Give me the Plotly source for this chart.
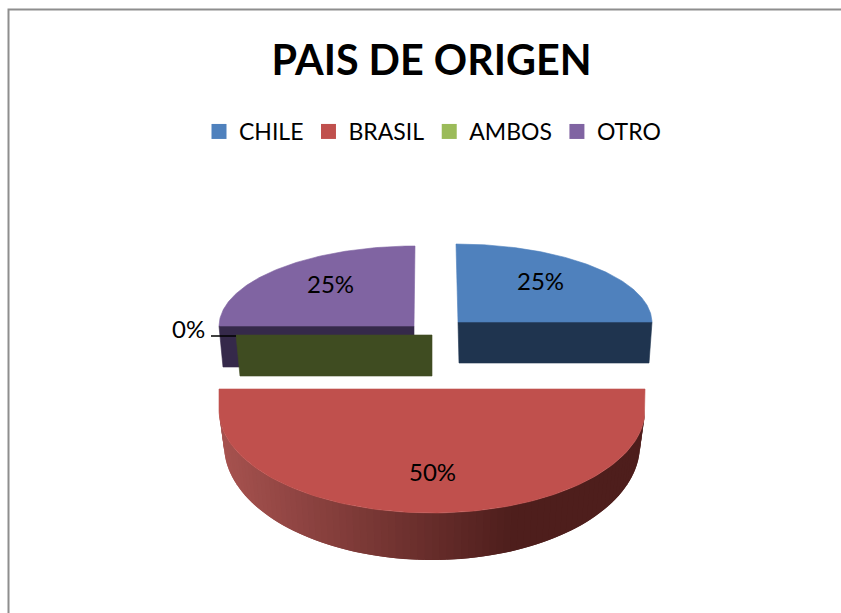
import math
import plotly.graph_objects as go

# Data
title = "PAIS DE ORIGEN"
categories = ["CHILE", "BRASIL", "AMBOS", "OTRO"]
shares = [25, 50, 0, 25]
top_colors = ["#4F81BD", "#C0504D", "#9BBB59", "#8064A2"]
wall_colors = ["#1F344F", None, "#3F4C21", "#35294A"]

W, H = 841, 613
# Per-slice projection in picture space: cut-edge centre, arc offset, top radii, shear, bottom centre, bottom radii
geometry = {
    "CHILE": dict(cx=458, cy=322, arm=0, rx=194, ry=78, sx=-2, bx=459, by=363, brx=190, bry=78),
    "BRASIL": dict(cx=432, cy=389, arm=21, rx=213, ry=103, sx=0, bx=432, by=445, brx=208, bry=115),
    "AMBOS": dict(cx=432, cy=335, arm=0, rx=196, ry=80, sx=0, bx=432, by=376, brx=192, bry=80),
    "OTRO": dict(cx=414, cy=326, arm=0, rx=195, ry=80, sx=1, bx=414, by=367, brx=191, bry=80),
}
label_pos = {"CHILE": (540, 280.5), "BRASIL": (432, 471.5), "AMBOS": (188, 328.5), "OTRO": (330, 283.5)}
paint_order = ["OTRO", "AMBOS", "CHILE", "BRASIL"]


def top_pt(g, a):
    r = math.radians(a)
    return (g["cx"] + g["rx"] * math.sin(r) + g["sx"] * math.cos(r),
            g["cy"] + g["arm"] - g["ry"] * math.cos(r))


def bot_pt(g, a):
    r = math.radians(a)
    return g["bx"] + g["brx"] * math.sin(r), g["by"] - g["bry"] * math.cos(r)


def poly(xs, ys, color, width=0.6):
    return go.Scatter(x=xs, y=ys, mode="lines", fill="toself", fillcolor=color,
                      line=dict(color=color, width=width), hoverinfo="skip", showlegend=False)


def mix(t):
    a, b = (166, 82, 79), (78, 30, 28)
    t = max(0, min(1, t))
    return "rgb(%d,%d,%d)" % tuple(round(a[i] + (b[i] - a[i]) * t) for i in range(3))


# Angles come from the shares, clockwise from 12 o'clock
total = sum(shares)
angles = {}
acc = 0.0
for name, v in zip(categories, shares):
    angles[name] = (acc, acc + 360 * v / total)
    acc += 360 * v / total

fig = go.Figure()
for name in paint_order:
    i = categories.index(name)
    g = geometry[name]
    a0, a1 = angles[name]
    if a1 > a0 and a0 >= 90 and a1 <= 270:
        # curved outer wall with a horizontal shading gradient; strips overlap to avoid seams
        n = 90
        for k in range(n):
            p, q = a0 + (a1 - a0) * k / n, min(a1, a0 + (a1 - a0) * (k + 2) / n)
            pts = [top_pt(g, p), top_pt(g, q), bot_pt(g, q), bot_pt(g, p), top_pt(g, p)]
            xm = top_pt(g, a0 + (a1 - a0) * (k + 0.5) / n)[0]
            fig.add_trace(poly([c[0] for c in pts], [c[1] for c in pts], mix((xm - 222) / 290), width=0))
    else:
        # flat cut face along the radial edge facing the viewer
        rad = 90 if a1 <= 90 else 270
        pts = [(g["cx"], g["cy"]), top_pt(g, rad), bot_pt(g, rad), (g["bx"], g["by"]), (g["cx"], g["cy"])]
        fig.add_trace(poly([c[0] for c in pts], [c[1] for c in pts], wall_colors[i]))
    if a1 > a0:
        n = 120
        arc = [top_pt(g, a0 + (a1 - a0) * k / n) for k in range(n + 1)]
        if a1 - a0 < 180:
            arc.append((g["cx"], g["cy"]))
        else:
            arc = [(arc[0][0], g["cy"])] + arc + [(arc[-1][0], g["cy"])]
        arc.append(arc[0])
        fig.add_trace(poly([c[0] for c in arc], [c[1] for c in arc], top_colors[i]))

# Leader line of the 0% label
fig.add_trace(go.Scatter(x=[211, 236], y=[336, 336], mode="lines",
                         line=dict(color="#000000", width=1.5), hoverinfo="skip", showlegend=False))

# Legend entries
for name, color in zip(categories, top_colors):
    fig.add_trace(go.Scatter(x=[None], y=[None], mode="markers", name=name,
                             marker=dict(symbol="square", size=15, color=color)))

annotations = [
    dict(x=label_pos[n][0], y=label_pos[n][1], xref="x", yref="y", text=f"{v}%", showarrow=False,
         font=dict(family="Lato", size=24, color="#000000"))
    for n, v in zip(categories, shares)
]

fig.update_layout(
    width=W, height=H, autosize=False,
    margin=dict(l=0, r=0, t=0, b=0),
    paper_bgcolor="#FFFFFF", plot_bgcolor="#FFFFFF",
    font=dict(family="Lato", color="#000000"),
    title=dict(text=f"<b>{title}</b>", x=431.5 / W, xanchor="center", xref="paper",
               y=1 - 61 / H, yanchor="middle", yref="container",
               font=dict(family="Lato", size=41.3, color="#000000")),
    legend=dict(orientation="h", x=199 / W, xanchor="left", y=1 - 110 / H, yanchor="top",
                font=dict(family="Lato", size=23, color="#000000"),
                itemclick=False, itemdoubleclick=False, bgcolor="rgba(0,0,0,0)"),
    xaxis=dict(range=[0, W], visible=False, fixedrange=True),
    yaxis=dict(range=[H, 0], visible=False, fixedrange=True),
    annotations=annotations,
    shapes=[dict(type="path", xref="x", yref="y", path=f"M 8.5 {H} L 8.5 9.5 L {W} 9.5",
                 line=dict(color="#8E8E8E", width=2))],
)
fig.write_html("out.html", config=dict(displayModeBar=False),
               post_script="document.body.style.margin='0';document.documentElement.style.overflow='hidden';")
